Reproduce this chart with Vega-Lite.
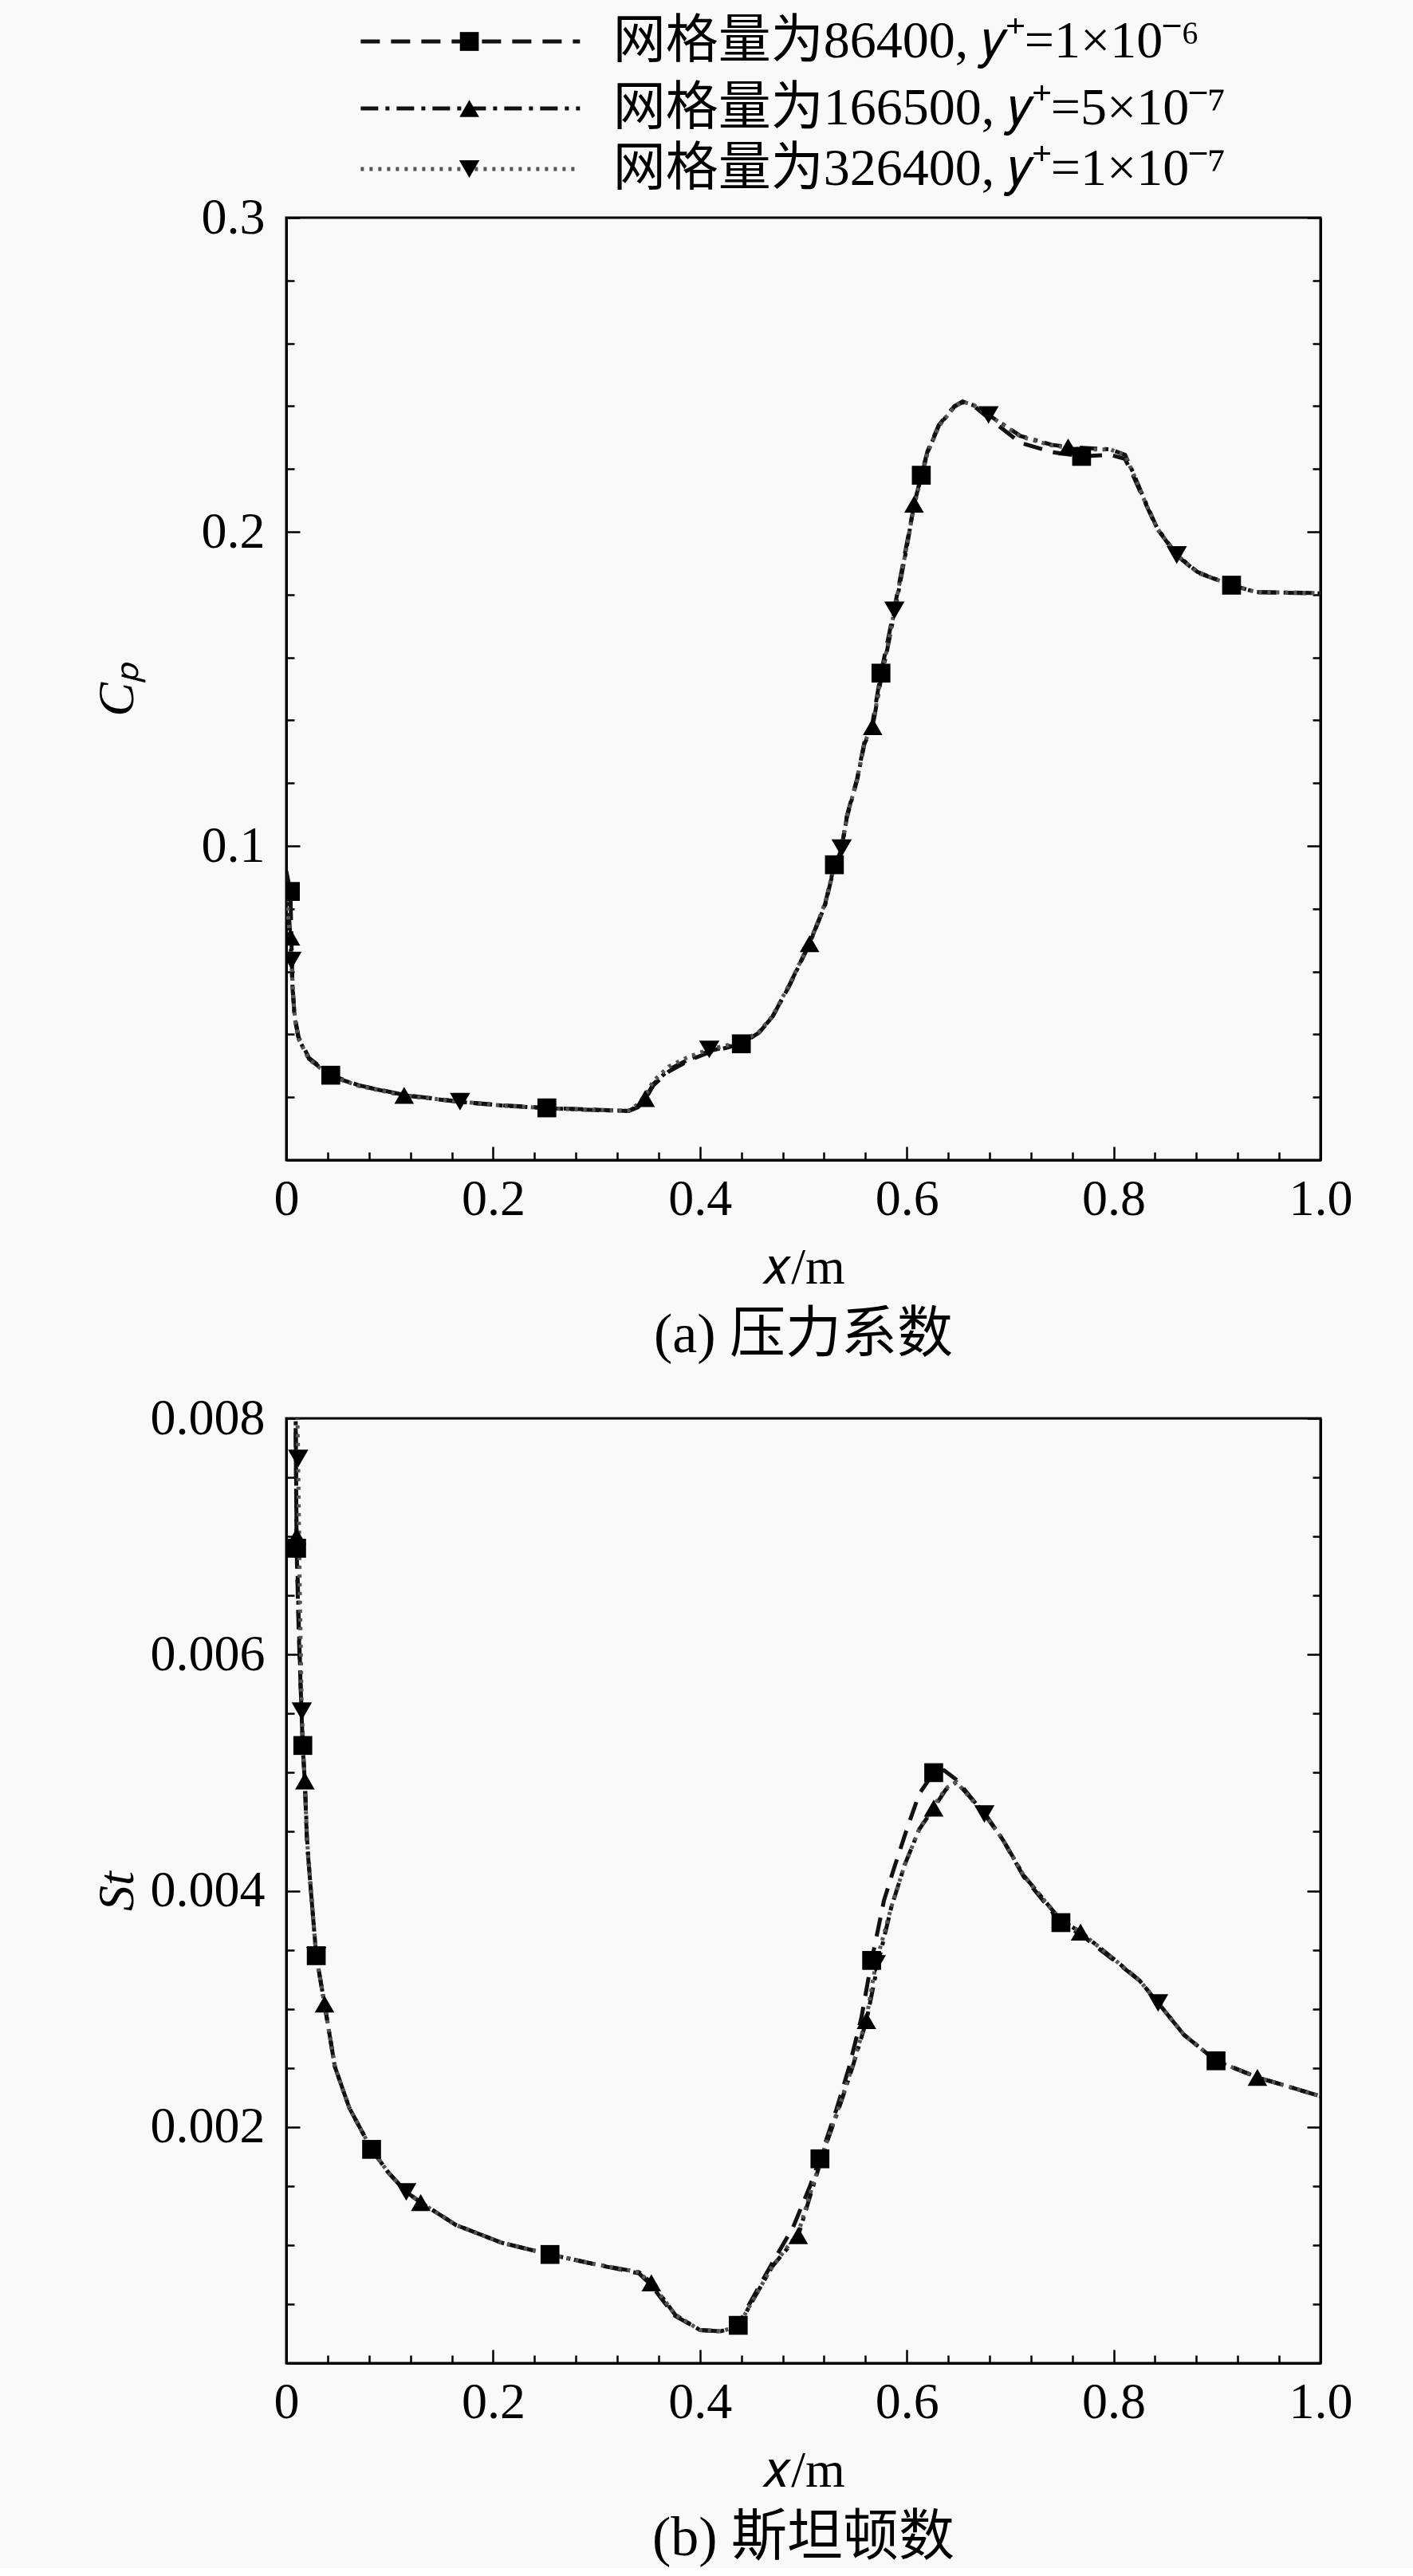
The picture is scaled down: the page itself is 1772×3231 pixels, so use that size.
{
  "$schema": "https://vega.github.io/schema/vega-lite/v6.json",
  "padding": {"left": 113, "top": 4, "right": 89, "bottom": 0},
  "spacing": -6,
  "config": {
    "background": "#f9f9f9",
    "font": "Liberation Serif, Noto Sans CJK SC",
    "view": {"stroke": "black", "strokeWidth": 3},
    "axis": {
      "domainColor": "black", "domainWidth": 3,
      "tickColor": "black", "tickWidth": 2.5,
      "labelFont": "Liberation Serif, Noto Sans CJK SC", "labelFontSize": 64, "labelColor": "black",
      "titleFont": "Liberation Serif, Noto Sans CJK SC", "titleFontSize": 64, "titleFontWeight": "normal", "titleColor": "black",
      "grid": false
    },
    "title": {"font": "Liberation Serif, Noto Sans CJK SC", "fontSize": 70, "fontWeight": "normal", "color": "black", "anchor": "middle"}
  },
  "datasets": {
    "leg": [
      {"s": "A", "k": "l", "r": 0.6, "x": 0.072},
      {"s": "A", "k": "l", "r": 0.6, "x": 0.284},
      {"s": "A", "k": "m", "r": 0.6, "x": 0.177},
      {"s": "A", "k": "t", "r": 0.6, "x": 0.316, "t": "网格量为86400, 𝑦⁺=1×10⁻⁶"},
      {"s": "B", "k": "l", "r": 1.65, "x": 0.072},
      {"s": "B", "k": "l", "r": 1.65, "x": 0.284},
      {"s": "B", "k": "m", "r": 1.65, "x": 0.177},
      {"s": "B", "k": "t", "r": 1.65, "x": 0.316, "t": "网格量为166500, 𝑦⁺=5×10⁻⁷"},
      {"s": "C", "k": "l", "r": 2.6, "x": 0.072},
      {"s": "C", "k": "l", "r": 2.6, "x": 0.284},
      {"s": "C", "k": "m", "r": 2.6, "x": 0.177},
      {"s": "C", "k": "t", "r": 2.6, "x": 0.316, "t": "网格量为326400, 𝑦⁺=1×10⁻⁷"}
    ],
    "cp": [
      {"s":"A","x":0.0,"y":0.092},{"s":"A","x":0.004,"y":0.0855,"m":1},{"s":"A","x":0.005,"y":0.070},{"s":"A","x":0.006,"y":0.056},{"s":"A","x":0.008,"y":0.046},{"s":"A","x":0.012,"y":0.039},{"s":"A","x":0.022,"y":0.0325},{"s":"A","x":0.043,"y":0.027,"m":1},{"s":"A","x":0.07,"y":0.0238},{"s":"A","x":0.114,"y":0.0207},{"s":"A","x":0.168,"y":0.0186},{"s":"A","x":0.21,"y":0.0174},{"s":"A","x":0.252,"y":0.0166,"m":1},{"s":"A","x":0.30,"y":0.0160},{"s":"A","x":0.331,"y":0.0156},{"s":"A","x":0.34,"y":0.0168},{"s":"A","x":0.347,"y":0.0193},{"s":"A","x":0.355,"y":0.0238},{"s":"A","x":0.37,"y":0.0282},{"s":"A","x":0.39,"y":0.0318},{"s":"A","x":0.409,"y":0.0343},{"s":"A","x":0.44,"y":0.037,"m":1},{"s":"A","x":0.457,"y":0.0405},{"s":"A","x":0.47,"y":0.0455},{"s":"A","x":0.486,"y":0.0554},{"s":"A","x":0.506,"y":0.069},{"s":"A","x":0.521,"y":0.0815},{"s":"A","x":0.53,"y":0.094,"m":1},{"s":"A","x":0.537,"y":0.0995},{"s":"A","x":0.542,"y":0.1095},{"s":"A","x":0.552,"y":0.1215},{"s":"A","x":0.559,"y":0.133},{"s":"A","x":0.567,"y":0.1395},{"s":"A","x":0.575,"y":0.155,"m":1},{"s":"A","x":0.582,"y":0.166},{"s":"A","x":0.59,"y":0.179},{"s":"A","x":0.601,"y":0.198},{"s":"A","x":0.607,"y":0.2085},{"s":"A","x":0.614,"y":0.218,"m":1},{"s":"A","x":0.62,"y":0.2256},{"s":"A","x":0.631,"y":0.234},{"s":"A","x":0.646,"y":0.2400},{"s":"A","x":0.654,"y":0.2415},{"s":"A","x":0.665,"y":0.2400},{"s":"A","x":0.679,"y":0.2362},{"s":"A","x":0.71,"y":0.2283},{"s":"A","x":0.74,"y":0.2254},{"s":"A","x":0.769,"y":0.2240,"m":1},{"s":"A","x":0.797,"y":0.2245},{"s":"A","x":0.811,"y":0.2232},{"s":"A","x":0.82,"y":0.2170},{"s":"A","x":0.83,"y":0.2096},{"s":"A","x":0.842,"y":0.2010},{"s":"A","x":0.861,"y":0.1925},{"s":"A","x":0.881,"y":0.1870},{"s":"A","x":0.914,"y":0.1830,"m":1},{"s":"A","x":0.9375,"y":0.1808},{"s":"A","x":1.0,"y":0.1804},
      {"s":"B","x":0.0,"y":0.090},{"s":"B","x":0.004,"y":0.071,"m":1},{"s":"B","x":0.006,"y":0.055},{"s":"B","x":0.008,"y":0.0455},{"s":"B","x":0.012,"y":0.0385},{"s":"B","x":0.022,"y":0.0322},{"s":"B","x":0.043,"y":0.0268},{"s":"B","x":0.07,"y":0.0237},{"s":"B","x":0.114,"y":0.0206,"m":1},{"s":"B","x":0.168,"y":0.0185},{"s":"B","x":0.21,"y":0.0173},{"s":"B","x":0.252,"y":0.0165},{"s":"B","x":0.30,"y":0.0159},{"s":"B","x":0.331,"y":0.0156},{"s":"B","x":0.34,"y":0.0172},{"s":"B","x":0.347,"y":0.0196,"m":1},{"s":"B","x":0.355,"y":0.0242},{"s":"B","x":0.37,"y":0.0288},{"s":"B","x":0.39,"y":0.0322},{"s":"B","x":0.409,"y":0.0347},{"s":"B","x":0.44,"y":0.0372},{"s":"B","x":0.457,"y":0.0406},{"s":"B","x":0.47,"y":0.0456},{"s":"B","x":0.486,"y":0.0552},{"s":"B","x":0.506,"y":0.0689,"m":1},{"s":"B","x":0.521,"y":0.0812},{"s":"B","x":0.53,"y":0.0935},{"s":"B","x":0.537,"y":0.099},{"s":"B","x":0.542,"y":0.109},{"s":"B","x":0.552,"y":0.121},{"s":"B","x":0.559,"y":0.1325},{"s":"B","x":0.567,"y":0.138,"m":1},{"s":"B","x":0.575,"y":0.153},{"s":"B","x":0.582,"y":0.164},{"s":"B","x":0.59,"y":0.1775},{"s":"B","x":0.601,"y":0.197},{"s":"B","x":0.607,"y":0.2088,"m":1},{"s":"B","x":0.614,"y":0.2175},{"s":"B","x":0.62,"y":0.2252},{"s":"B","x":0.631,"y":0.2338},{"s":"B","x":0.646,"y":0.2398},{"s":"B","x":0.654,"y":0.2413},{"s":"B","x":0.665,"y":0.2402},{"s":"B","x":0.679,"y":0.2372},{"s":"B","x":0.71,"y":0.2305},{"s":"B","x":0.74,"y":0.2277},{"s":"B","x":0.756,"y":0.2270,"m":1},{"s":"B","x":0.797,"y":0.2262},{"s":"B","x":0.811,"y":0.2245},{"s":"B","x":0.82,"y":0.2180},{"s":"B","x":0.83,"y":0.2100},{"s":"B","x":0.842,"y":0.2012},{"s":"B","x":0.861,"y":0.1927},{"s":"B","x":0.881,"y":0.1872},{"s":"B","x":0.914,"y":0.1830},{"s":"B","x":0.9375,"y":0.1808},{"s":"B","x":1.0,"y":0.1805},
      {"s":"C","x":0.0,"y":0.086},{"s":"C","x":0.005,"y":0.0635,"m":1},{"s":"C","x":0.007,"y":0.050},{"s":"C","x":0.009,"y":0.0435},{"s":"C","x":0.012,"y":0.0385},{"s":"C","x":0.022,"y":0.032},{"s":"C","x":0.043,"y":0.0267},{"s":"C","x":0.07,"y":0.0236},{"s":"C","x":0.114,"y":0.0205},{"s":"C","x":0.168,"y":0.0186,"m":1},{"s":"C","x":0.21,"y":0.0173},{"s":"C","x":0.252,"y":0.0165},{"s":"C","x":0.30,"y":0.0159},{"s":"C","x":0.331,"y":0.0157},{"s":"C","x":0.34,"y":0.0178},{"s":"C","x":0.347,"y":0.0205},{"s":"C","x":0.355,"y":0.0252},{"s":"C","x":0.37,"y":0.0298},{"s":"C","x":0.39,"y":0.0330},{"s":"C","x":0.409,"y":0.0352,"m":1},{"s":"C","x":0.44,"y":0.0376},{"s":"C","x":0.457,"y":0.0408},{"s":"C","x":0.47,"y":0.0458},{"s":"C","x":0.486,"y":0.0556},{"s":"C","x":0.506,"y":0.0692},{"s":"C","x":0.521,"y":0.0818},{"s":"C","x":0.53,"y":0.0938},{"s":"C","x":0.537,"y":0.0993,"m":1},{"s":"C","x":0.542,"y":0.1092},{"s":"C","x":0.552,"y":0.1212},{"s":"C","x":0.559,"y":0.1328},{"s":"C","x":0.567,"y":0.1385},{"s":"C","x":0.575,"y":0.1535},{"s":"C","x":0.582,"y":0.1645},{"s":"C","x":0.588,"y":0.1750,"m":1},{"s":"C","x":0.601,"y":0.1972},{"s":"C","x":0.607,"y":0.2082},{"s":"C","x":0.614,"y":0.2172},{"s":"C","x":0.62,"y":0.2250},{"s":"C","x":0.631,"y":0.2336},{"s":"C","x":0.646,"y":0.2398},{"s":"C","x":0.654,"y":0.2414},{"s":"C","x":0.665,"y":0.2403},{"s":"C","x":0.679,"y":0.2372,"m":1},{"s":"C","x":0.71,"y":0.2303},{"s":"C","x":0.74,"y":0.2275},{"s":"C","x":0.769,"y":0.2262},{"s":"C","x":0.797,"y":0.2262},{"s":"C","x":0.811,"y":0.2243},{"s":"C","x":0.82,"y":0.2178},{"s":"C","x":0.83,"y":0.2098},{"s":"C","x":0.842,"y":0.2011},{"s":"C","x":0.861,"y":0.1926,"m":1},{"s":"C","x":0.881,"y":0.1871},{"s":"C","x":0.914,"y":0.1830},{"s":"C","x":0.9375,"y":0.1808},{"s":"C","x":1.0,"y":0.1805}
    ],
    "st": [
      {"s":"A","x":0.007,"y":0.0092},{"s":"A","x":0.009,"y":0.0080},{"s":"A","x":0.010,"y":0.0069,"m":1},{"s":"A","x":0.012,"y":0.0062},{"s":"A","x":0.014,"y":0.0057},{"s":"A","x":0.016,"y":0.00523,"m":1},{"s":"A","x":0.018,"y":0.0049},{"s":"A","x":0.020,"y":0.00441},{"s":"A","x":0.022,"y":0.0042},{"s":"A","x":0.024,"y":0.00398},{"s":"A","x":0.029,"y":0.00345,"m":1},{"s":"A","x":0.037,"y":0.00304},{"s":"A","x":0.047,"y":0.00251},{"s":"A","x":0.061,"y":0.00216},{"s":"A","x":0.0825,"y":0.00181,"m":1},{"s":"A","x":0.099,"y":0.00161},{"s":"A","x":0.116,"y":0.00145},{"s":"A","x":0.130,"y":0.00136},{"s":"A","x":0.164,"y":0.00117},{"s":"A","x":0.208,"y":0.00102},{"s":"A","x":0.255,"y":0.00092,"m":1},{"s":"A","x":0.297,"y":0.00084},{"s":"A","x":0.341,"y":0.00076},{"s":"A","x":0.353,"y":0.00066},{"s":"A","x":0.365,"y":0.00052},{"s":"A","x":0.376,"y":0.00040},{"s":"A","x":0.40,"y":0.00028},{"s":"A","x":0.420,"y":0.00027},{"s":"A","x":0.437,"y":0.00032,"m":1},{"s":"A","x":0.449,"y":0.00052},{"s":"A","x":0.47,"y":0.00085},{"s":"A","x":0.49,"y":0.00115},{"s":"A","x":0.506,"y":0.00149},{"s":"A","x":0.516,"y":0.00173,"m":1},{"s":"A","x":0.532,"y":0.00215},{"s":"A","x":0.544,"y":0.00250},{"s":"A","x":0.556,"y":0.00292},{"s":"A","x":0.566,"y":0.00341,"m":1},{"s":"A","x":0.578,"y":0.00392},{"s":"A","x":0.588,"y":0.00420},{"s":"A","x":0.600,"y":0.00452},{"s":"A","x":0.612,"y":0.00482},{"s":"A","x":0.626,"y":0.00500,"m":1},{"s":"A","x":0.636,"y":0.00502},{"s":"A","x":0.648,"y":0.00494},{"s":"A","x":0.675,"y":0.00465},{"s":"A","x":0.693,"y":0.00443},{"s":"A","x":0.713,"y":0.00412},{"s":"A","x":0.749,"y":0.00373,"m":1},{"s":"A","x":0.768,"y":0.00363},{"s":"A","x":0.799,"y":0.00342},{"s":"A","x":0.825,"y":0.00324},{"s":"A","x":0.843,"y":0.00305},{"s":"A","x":0.868,"y":0.00278},{"s":"A","x":0.899,"y":0.00256,"m":1},{"s":"A","x":0.939,"y":0.00242},{"s":"A","x":1.0,"y":0.00226},
      {"s":"B","x":0.007,"y":0.0094},{"s":"B","x":0.009,"y":0.0081},{"s":"B","x":0.010,"y":0.0070,"m":1},{"s":"B","x":0.012,"y":0.0063},{"s":"B","x":0.014,"y":0.0057},{"s":"B","x":0.016,"y":0.0052},{"s":"B","x":0.018,"y":0.00493,"m":1},{"s":"B","x":0.020,"y":0.00445},{"s":"B","x":0.022,"y":0.0042},{"s":"B","x":0.024,"y":0.00398},{"s":"B","x":0.029,"y":0.00345},{"s":"B","x":0.037,"y":0.00304,"m":1},{"s":"B","x":0.047,"y":0.00251},{"s":"B","x":0.061,"y":0.00216},{"s":"B","x":0.0825,"y":0.00181},{"s":"B","x":0.099,"y":0.00161},{"s":"B","x":0.116,"y":0.00145},{"s":"B","x":0.130,"y":0.00136,"m":1},{"s":"B","x":0.164,"y":0.00117},{"s":"B","x":0.208,"y":0.00102},{"s":"B","x":0.255,"y":0.00092},{"s":"B","x":0.297,"y":0.00084},{"s":"B","x":0.341,"y":0.00077},{"s":"B","x":0.353,"y":0.00068,"m":1},{"s":"B","x":0.365,"y":0.00054},{"s":"B","x":0.376,"y":0.00041},{"s":"B","x":0.40,"y":0.00028},{"s":"B","x":0.420,"y":0.00027},{"s":"B","x":0.437,"y":0.00031},{"s":"B","x":0.449,"y":0.00050},{"s":"B","x":0.47,"y":0.00082},{"s":"B","x":0.495,"y":0.00108,"m":1},{"s":"B","x":0.506,"y":0.00140},{"s":"B","x":0.520,"y":0.00180},{"s":"B","x":0.536,"y":0.00220},{"s":"B","x":0.548,"y":0.00252},{"s":"B","x":0.561,"y":0.00290,"m":1},{"s":"B","x":0.572,"y":0.00338},{"s":"B","x":0.585,"y":0.00386},{"s":"B","x":0.598,"y":0.00422},{"s":"B","x":0.612,"y":0.00452},{"s":"B","x":0.626,"y":0.00470,"m":1},{"s":"B","x":0.638,"y":0.00486},{"s":"B","x":0.648,"y":0.00492},{"s":"B","x":0.675,"y":0.00466},{"s":"B","x":0.693,"y":0.00443},{"s":"B","x":0.713,"y":0.00413},{"s":"B","x":0.749,"y":0.00375},{"s":"B","x":0.768,"y":0.00365,"m":1},{"s":"B","x":0.799,"y":0.00343},{"s":"B","x":0.825,"y":0.00324},{"s":"B","x":0.843,"y":0.00305},{"s":"B","x":0.868,"y":0.00278},{"s":"B","x":0.899,"y":0.00256},{"s":"B","x":0.939,"y":0.00242,"m":1},{"s":"B","x":1.0,"y":0.00226},
      {"s":"C","x":0.008,"y":0.0095},{"s":"C","x":0.010,"y":0.0084},{"s":"C","x":0.0115,"y":0.00766,"m":1},{"s":"C","x":0.013,"y":0.0066},{"s":"C","x":0.015,"y":0.00552,"m":1},{"s":"C","x":0.018,"y":0.0049},{"s":"C","x":0.020,"y":0.00445},{"s":"C","x":0.022,"y":0.0042},{"s":"C","x":0.024,"y":0.00398},{"s":"C","x":0.029,"y":0.00345,"m":1},{"s":"C","x":0.037,"y":0.00304},{"s":"C","x":0.047,"y":0.00251},{"s":"C","x":0.061,"y":0.00216},{"s":"C","x":0.0825,"y":0.00181},{"s":"C","x":0.099,"y":0.00161},{"s":"C","x":0.116,"y":0.00145,"m":1},{"s":"C","x":0.130,"y":0.00136},{"s":"C","x":0.164,"y":0.00117},{"s":"C","x":0.208,"y":0.00102},{"s":"C","x":0.255,"y":0.00092},{"s":"C","x":0.297,"y":0.00084},{"s":"C","x":0.341,"y":0.00077},{"s":"C","x":0.353,"y":0.00067},{"s":"C","x":0.365,"y":0.00054},{"s":"C","x":0.376,"y":0.00041},{"s":"C","x":0.40,"y":0.00028},{"s":"C","x":0.420,"y":0.00027},{"s":"C","x":0.437,"y":0.00031},{"s":"C","x":0.449,"y":0.00050},{"s":"C","x":0.47,"y":0.00082},{"s":"C","x":0.495,"y":0.00110},{"s":"C","x":0.506,"y":0.00142},{"s":"C","x":0.520,"y":0.00181},{"s":"C","x":0.536,"y":0.00221},{"s":"C","x":0.548,"y":0.00253},{"s":"C","x":0.561,"y":0.00292},{"s":"C","x":0.570,"y":0.00338,"m":1},{"s":"C","x":0.585,"y":0.00386},{"s":"C","x":0.598,"y":0.00422},{"s":"C","x":0.612,"y":0.00452},{"s":"C","x":0.626,"y":0.00472},{"s":"C","x":0.638,"y":0.00487},{"s":"C","x":0.648,"y":0.00492},{"s":"C","x":0.675,"y":0.00465,"m":1},{"s":"C","x":0.693,"y":0.00443},{"s":"C","x":0.713,"y":0.00413},{"s":"C","x":0.749,"y":0.00375},{"s":"C","x":0.768,"y":0.00365},{"s":"C","x":0.799,"y":0.00343},{"s":"C","x":0.825,"y":0.00324},{"s":"C","x":0.843,"y":0.00305,"m":1},{"s":"C","x":0.868,"y":0.00278},{"s":"C","x":0.899,"y":0.00256},{"s":"C","x":0.939,"y":0.00242},{"s":"C","x":1.0,"y":0.00226}
    ]
  },
  "vconcat": [
    {
      "width": 1297, "height": 220,
      "data": {"name": "leg"},
      "view": {"stroke": null},
      "layer": [
        {
          "transform": [{"filter": "datum.k == 'l'"}],
          "mark": {"type": "line", "strokeWidth": 5},
          "encoding": {
            "x": {"field": "x", "type": "quantitative", "scale": {"domain": [0, 1]}, "axis": null},
            "y": {"field": "r", "type": "quantitative", "scale": {"domain": [0, 2.75], "reverse": true},
                  "axis": {"title": "C", "titleColor": "transparent", "labels": false, "ticks": false, "domain": false, "minExtent": 175, "maxExtent": 175, "titlePadding": 5}},
            "detail": {"field": "s"},
            "strokeDash": {"field": "s", "type": "nominal", "scale": {"domain": ["A", "B", "C"], "range": [[24, 14], [22, 9, 5, 9], [4, 7]]}, "legend": null},
            "color": {"field": "s", "type": "nominal", "scale": {"domain": ["A", "B", "C"], "range": ["#111111", "#111111", "#555555"]}, "legend": null}
          }
        },
        {
          "transform": [{"filter": "datum.k == 'm'"}],
          "mark": {"type": "point", "filled": true, "opacity": 1, "color": "black"},
          "encoding": {
            "x": {"field": "x", "type": "quantitative", "scale": {"domain": [0, 1]}, "axis": null},
            "y": {"field": "r", "type": "quantitative", "scale": {"domain": [0, 2.75], "reverse": true},
                  "axis": {"title": "C", "titleColor": "transparent", "labels": false, "ticks": false, "domain": false, "minExtent": 175, "maxExtent": 175, "titlePadding": 5}},
            "shape": {"field": "s", "type": "nominal", "scale": {"domain": ["A", "B", "C"], "range": ["square", "triangle-up", "triangle-down"]}, "legend": null},
            "size": {"field": "s", "type": "ordinal", "scale": {"domain": ["A", "B", "C"], "range": [560, 650, 650]}, "legend": null}
          }
        },
        {
          "transform": [{"filter": "datum.k == 't'"}],
          "mark": {"type": "text", "align": "left", "baseline": "middle", "fontSize": 66, "font": "Liberation Serif, Noto Sans CJK SC", "color": "black"},
          "encoding": {
            "x": {"field": "x", "type": "quantitative", "scale": {"domain": [0, 1]}, "axis": null},
            "y": {"field": "r", "type": "quantitative", "scale": {"domain": [0, 2.75], "reverse": true},
                  "axis": {"title": "C", "titleColor": "transparent", "labels": false, "ticks": false, "domain": false, "minExtent": 175, "maxExtent": 175, "titlePadding": 5}},
            "text": {"field": "t"}
          }
        }
      ]
    },
    {
      "spacing": 33,
      "vconcat": [
        {
          "width": 1297, "height": 1182,
          "data": {"name": "cp"},
          "title": {"text": "(a) 压力系数", "orient": "bottom", "offset": 19},
          "layer": [
            {
              "mark": {"type": "line", "strokeWidth": 5, "clip": true},
              "encoding": {
                "x": {"field": "x", "type": "quantitative", "scale": {"domain": [0, 1]},
                      "axis": {"title": "𝑥/m", "values": [0,0.04,0.08,0.12,0.16,0.2,0.24,0.28,0.32,0.36,0.4,0.44,0.48,0.52,0.56,0.6,0.64,0.68,0.72,0.76,0.8,0.84,0.88,0.92,0.96,1],
                               "tickSize": {"condition": {"test": "abs(datum.value*5 - round(datum.value*5)) < 0.000001", "value": -17}, "value": -10},
                               "labelExpr": "abs(datum.value*5 - round(datum.value*5)) < 0.000001 ? (datum.value == 0 ? '0' : format(datum.value, '.1f')) : ''",
                               "labelPadding": 34, "titlePadding": 22, "labelFlush": false}},
                "y": {"field": "y", "type": "quantitative", "scale": {"domain": [0, 0.3]},
                      "axis": {"title": "Cₚ", "titleFontStyle": "italic", "values": [0,0.02,0.04,0.06,0.08,0.1,0.12,0.14,0.16,0.18,0.2,0.22,0.24,0.26,0.28,0.3],
                               "tickSize": {"condition": {"test": "abs(datum.value*10 - round(datum.value*10)) < 0.000001", "value": -17}, "value": -10},
                               "labelExpr": "abs(datum.value*10 - round(datum.value*10)) < 0.000001 ? (datum.value == 0 ? '' : format(datum.value, '.1f')) : ''",
                               "labelPadding": 44, "minExtent": 175, "maxExtent": 175, "titlePadding": 5, "labelFlush": false}},
                "strokeDash": {"field": "s", "type": "nominal", "scale": {"domain": ["A", "B", "C"], "range": [[24, 14], [22, 9, 5, 9], [4, 7]]}, "legend": null},
                "color": {"field": "s", "type": "nominal", "scale": {"domain": ["A", "B", "C"], "range": ["#111111", "#111111", "#555555"]}, "legend": null}
              }
            },
            {
              "transform": [{"filter": "datum.m == 1"}],
              "mark": {"type": "point", "filled": true, "opacity": 1, "color": "black", "clip": true},
              "encoding": {
                "x": {"field": "x", "type": "quantitative", "scale": {"domain": [0, 1]},
                      "axis": {"title": "𝑥/m", "values": [0,0.04,0.08,0.12,0.16,0.2,0.24,0.28,0.32,0.36,0.4,0.44,0.48,0.52,0.56,0.6,0.64,0.68,0.72,0.76,0.8,0.84,0.88,0.92,0.96,1],
                               "tickSize": {"condition": {"test": "abs(datum.value*5 - round(datum.value*5)) < 0.000001", "value": -17}, "value": -10},
                               "labelExpr": "abs(datum.value*5 - round(datum.value*5)) < 0.000001 ? (datum.value == 0 ? '0' : format(datum.value, '.1f')) : ''",
                               "labelPadding": 34, "titlePadding": 22, "labelFlush": false}},
                "y": {"field": "y", "type": "quantitative", "scale": {"domain": [0, 0.3]},
                      "axis": {"orient": "right", "title": null, "labels": false, "values": [0,0.02,0.04,0.06,0.08,0.1,0.12,0.14,0.16,0.18,0.2,0.22,0.24,0.26,0.28,0.3],
                               "tickSize": {"condition": {"test": "abs(datum.value*10 - round(datum.value*10)) < 0.000001", "value": -17}, "value": -10}}},
                "shape": {"field": "s", "type": "nominal", "scale": {"domain": ["A", "B", "C"], "range": ["square", "triangle-up", "triangle-down"]}, "legend": null},
                "size": {"field": "s", "type": "ordinal", "scale": {"domain": ["A", "B", "C"], "range": [560, 650, 650]}, "legend": null}
              }
            }
          ],
          "resolve": {"axis": {"y": "independent"}}
        },
        {
          "width": 1297, "height": 1185,
          "data": {"name": "st"},
          "title": {"text": "(b) 斯坦顿数", "orient": "bottom", "offset": 19},
          "layer": [
            {
              "mark": {"type": "line", "strokeWidth": 5, "clip": true},
              "encoding": {
                "x": {"field": "x", "type": "quantitative", "scale": {"domain": [0, 1]},
                      "axis": {"title": "𝑥/m", "values": [0,0.04,0.08,0.12,0.16,0.2,0.24,0.28,0.32,0.36,0.4,0.44,0.48,0.52,0.56,0.6,0.64,0.68,0.72,0.76,0.8,0.84,0.88,0.92,0.96,1],
                               "tickSize": {"condition": {"test": "abs(datum.value*5 - round(datum.value*5)) < 0.000001", "value": -17}, "value": -10},
                               "labelExpr": "abs(datum.value*5 - round(datum.value*5)) < 0.000001 ? (datum.value == 0 ? '0' : format(datum.value, '.1f')) : ''",
                               "labelPadding": 34, "titlePadding": 22, "labelFlush": false}},
                "y": {"field": "y", "type": "quantitative", "scale": {"domain": [0, 0.008]},
                      "axis": {"title": "St", "titleFontStyle": "italic", "values": [0,0.0005,0.001,0.0015,0.002,0.0025,0.003,0.0035,0.004,0.0045,0.005,0.0055,0.006,0.0065,0.007,0.0075,0.008],
                               "tickSize": {"condition": {"test": "abs(datum.value*500 - round(datum.value*500)) < 0.000001", "value": -17}, "value": -10},
                               "labelExpr": "abs(datum.value*500 - round(datum.value*500)) < 0.000001 ? (datum.value == 0 ? '' : format(datum.value, '.3f')) : ''",
                               "labelPadding": 44, "minExtent": 175, "maxExtent": 175, "titlePadding": 5, "labelFlush": false}},
                "strokeDash": {"field": "s", "type": "nominal", "scale": {"domain": ["A", "B", "C"], "range": [[24, 14], [22, 9, 5, 9], [4, 7]]}, "legend": null},
                "color": {"field": "s", "type": "nominal", "scale": {"domain": ["A", "B", "C"], "range": ["#111111", "#111111", "#555555"]}, "legend": null}
              }
            },
            {
              "transform": [{"filter": "datum.m == 1"}],
              "mark": {"type": "point", "filled": true, "opacity": 1, "color": "black", "clip": true},
              "encoding": {
                "x": {"field": "x", "type": "quantitative", "scale": {"domain": [0, 1]},
                      "axis": {"title": "𝑥/m", "values": [0,0.04,0.08,0.12,0.16,0.2,0.24,0.28,0.32,0.36,0.4,0.44,0.48,0.52,0.56,0.6,0.64,0.68,0.72,0.76,0.8,0.84,0.88,0.92,0.96,1],
                               "tickSize": {"condition": {"test": "abs(datum.value*5 - round(datum.value*5)) < 0.000001", "value": -17}, "value": -10},
                               "labelExpr": "abs(datum.value*5 - round(datum.value*5)) < 0.000001 ? (datum.value == 0 ? '0' : format(datum.value, '.1f')) : ''",
                               "labelPadding": 34, "titlePadding": 22, "labelFlush": false}},
                "y": {"field": "y", "type": "quantitative", "scale": {"domain": [0, 0.008]},
                      "axis": {"orient": "right", "title": null, "labels": false, "values": [0,0.0005,0.001,0.0015,0.002,0.0025,0.003,0.0035,0.004,0.0045,0.005,0.0055,0.006,0.0065,0.007,0.0075,0.008],
                               "tickSize": {"condition": {"test": "abs(datum.value*500 - round(datum.value*500)) < 0.000001", "value": -17}, "value": -10}}},
                "shape": {"field": "s", "type": "nominal", "scale": {"domain": ["A", "B", "C"], "range": ["square", "triangle-up", "triangle-down"]}, "legend": null},
                "size": {"field": "s", "type": "ordinal", "scale": {"domain": ["A", "B", "C"], "range": [560, 650, 650]}, "legend": null}
              }
            }
          ],
          "resolve": {"axis": {"y": "independent"}}
        }
      ]
    }
  ]
}
